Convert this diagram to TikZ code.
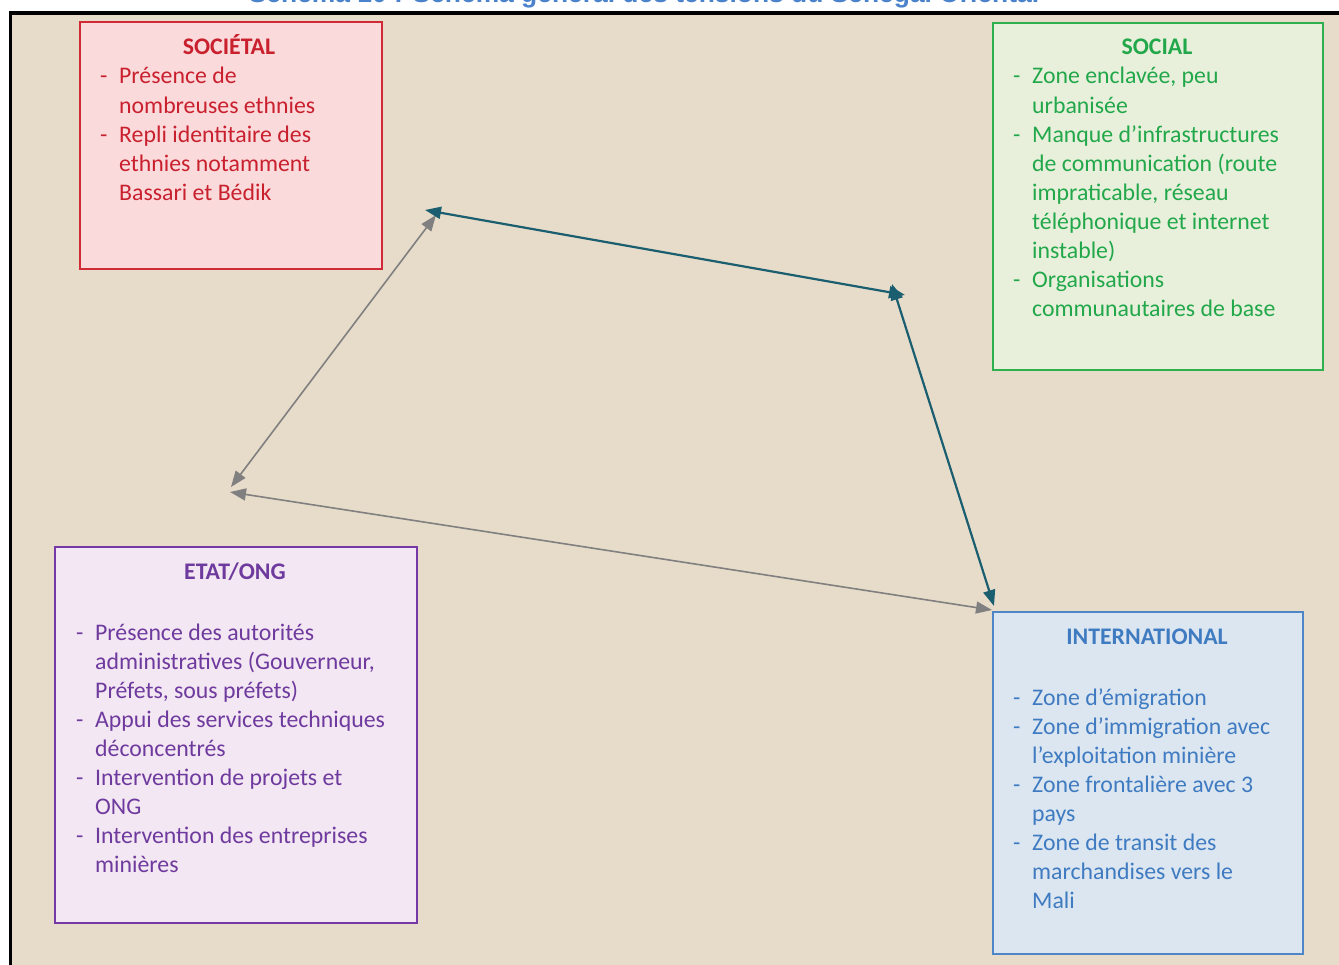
\documentclass[tikz,border=0pt]{standalone}
\usepackage{fontspec}
\setmainfont{Carlito}
\newfontfamily\titlefont{Liberation Sans}
\usetikzlibrary{arrows.meta}
\definecolor{bgbeige}{HTML}{E7DCCA}
\definecolor{redtxt}{HTML}{C9202E}
\definecolor{redbrd}{HTML}{CF2A36}
\definecolor{redfill}{HTML}{FBDADC}
\definecolor{grntxt}{HTML}{22A84A}
\definecolor{grnbrd}{HTML}{2FB04E}
\definecolor{grnfill}{HTML}{E8F0DC}
\definecolor{purtxt}{HTML}{6F3A9E}
\definecolor{purbrd}{HTML}{7638A6}
\definecolor{purfill}{HTML}{F2E7F2}
\definecolor{blutxt}{HTML}{3F7BC1}
\definecolor{blubrd}{HTML}{4F86C8}
\definecolor{blufill}{HTML}{DCE6F1}
\definecolor{ttlblue}{HTML}{4A82CC}
\definecolor{tealarr}{HTML}{1B5E70}
\definecolor{grayarr}{HTML}{808080}
\newcommand\itm{\makebox[19pt][l]{-}}
\newcommand\cnt{\hspace*{19pt}}
\tikzset{
  box/.style={draw, line width=2pt, rectangle, inner sep=0pt, anchor=north west},
  ttl/.style={anchor=base, font=\fontsize{23.8}{29.1}\selectfont\bfseries, inner sep=0pt},
  lst/.style={anchor=base west, align=left, inner sep=0pt, font=\fontsize{23.8}{29.1}\selectfont},
  tealline/.style={draw=tealarr, line width=2.2pt, {Triangle[length=16pt,width=12pt]}-{Triangle[length=16pt,width=12pt]}},
  grayline/.style={draw=grayarr, line width=1.6pt, {Triangle[length=16pt,width=12pt]}-{Triangle[length=16pt,width=12pt]}}
}
\begin{document}
\begin{tikzpicture}[x=1pt,y=-1pt]
\clip (0,0) rectangle (1339,965);
% frame and background
\fill[white] (0,0) rectangle (1339,965);
\fill[bgbeige] (10,13) rectangle (1360,990);
\draw[black, line width=3.5pt] (10.5,990) -- (10.5,13) -- (1360,13);
% cut-off caption
\node[anchor=base, inner sep=0pt, text=ttlblue, font=\titlefont\fontsize{26.4}{30}\selectfont\bfseries] (caption) at (644,2.5) {Schéma 10 : Schéma général des tensions du Sénégal Oriental};

% SOCIETAL (list node placed at the baseline of its last line)
\node[box, draw=redbrd, fill=redfill, minimum width=302pt, minimum height=247pt] (soc) at (79,21) {};
\node[ttl, text=redtxt] (socT) at (229,55) {SOCIÉTAL};
\node[lst, text=redtxt] (socL) at (100,200.4) {\itm Présence de\\ \cnt nombreuses ethnies\\ \itm Repli identitaire des\\ \cnt ethnies notamment\\ \cnt Bassari et Bédik};

% SOCIAL
\node[box, draw=grnbrd, fill=grnfill, minimum width=330pt, minimum height=347pt] (sol) at (992,22) {};
\node[ttl, text=grntxt] (solT) at (1157,55) {SOCIAL};
\node[lst, text=grntxt] (solL) at (1013,316.8) {\itm Zone enclavée, peu\\ \cnt urbanisée\\ \itm Manque d’infrastructures\\ \cnt de communication (route\\ \cnt impraticable, réseau\\ \cnt téléphonique et internet\\ \cnt instable)\\ \itm Organisations\\ \cnt communautaires de base};

% ETAT/ONG
\node[box, draw=purbrd, fill=purfill, minimum width=362pt, minimum height=376pt] (eta) at (54,546) {};
\node[ttl, text=purtxt] (etaT) at (235,579) {ETAT/ONG};
\node[lst, text=purtxt] (etaL) at (76,872.8) {\itm Présence des autorités\\ \cnt administratives (Gouverneur,\\ \cnt Préfets, sous préfets)\\ \itm Appui des services techniques\\ \cnt déconcentrés\\ \itm Intervention de projets et\\ \cnt ONG\\ \itm Intervention des entreprises\\ \cnt minières};

% INTERNATIONAL
\node[box, draw=blubrd, fill=blufill, minimum width=310pt, minimum height=342pt] (int) at (992,611) {};
\node[ttl, text=blutxt] (intT) at (1147,644) {INTERNATIONAL};
\node[lst, text=blutxt] (intL) at (1013,908.7) {\itm Zone d’émigration\\ \itm Zone d’immigration avec\\ \cnt l’exploitation minière\\ \itm Zone frontalière avec 3\\ \cnt pays\\ \itm Zone de transit des\\ \cnt marchandises vers le\\ \cnt Mali};

% connector end points
\coordinate (tA) at (425,210);
\coordinate (tB) at (905,295);
\coordinate (tC) at (892,284);
\coordinate (tD) at (994,606);
\coordinate (gA) at (436,215);
\coordinate (gB) at (231,487);
\coordinate (gC) at (230,492);
\coordinate (gD) at (992,610);

\draw[grayline] (gA) -- (gB);
\draw[grayline] (gC) -- (gD);
\draw[tealline] (tA) -- (tB);
\draw[tealline] (tC) -- (tD);
\end{tikzpicture}
\end{document}
